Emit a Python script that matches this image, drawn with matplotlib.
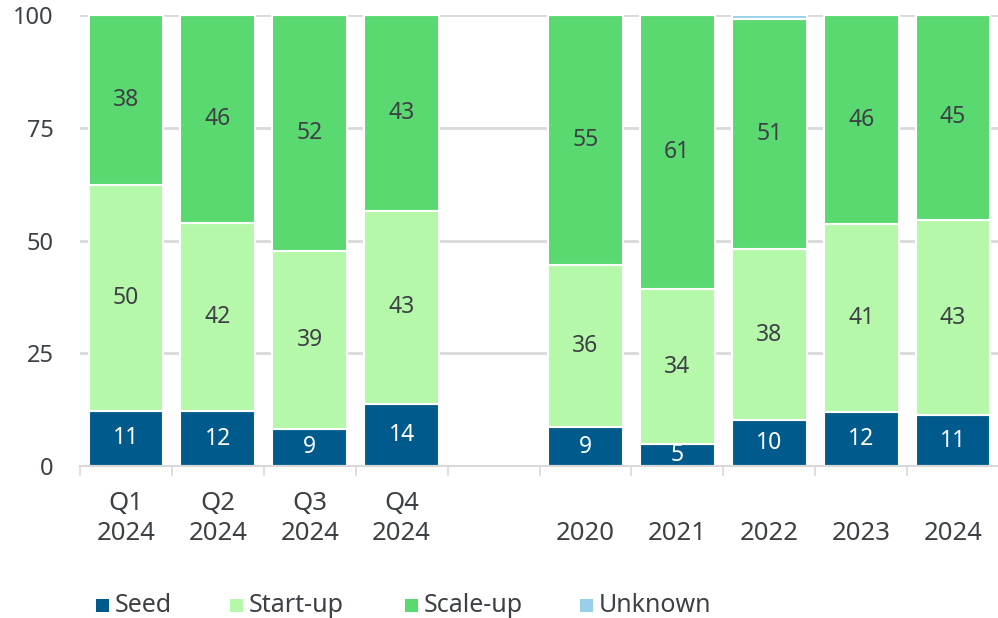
import numpy as np
import matplotlib.pyplot as plt
from matplotlib.patches import Rectangle

plt.rcParams['font.family'] = ['Noto Sans', 'DejaVu Sans']

categories = ["Q1\n2024", "Q2\n2024", "Q3\n2024", "Q4\n2024", "",
              "2020", "2021", "2022", "2023", "2024"]

# segment heights (share, %), spacer column is all zeros
seed = [12.2, 12.1, 8.3, 13.8, 0, 8.6, 4.8, 10.2, 12.0, 11.2]
startup = [50.1, 41.7, 39.4, 42.8, 0, 36.0, 34.5, 37.9, 41.6, 43.4]
scaleup = [37.7, 46.2, 52.3, 43.4, 0, 55.4, 60.7, 51.1, 46.4, 45.4]
unknown = [0, 0, 0, 0, 0, 0, 0, 0.8, 0, 0]

# labels as printed on the chart
seed_lbl = [11, 12, 9, 14, None, 9, 5, 10, 12, 11]
startup_lbl = [50, 42, 39, 43, None, 36, 34, 38, 41, 43]
scaleup_lbl = [38, 46, 52, 43, None, 55, 61, 51, 46, 45]

series = ["Seed", "Start-up", "Scale-up", "Unknown"]
colors = ["#005b8c", "#b6f8a9", "#59d970", "#9acfea"]
text_dark = "#3d4145"

fig = plt.figure(figsize=(9.98, 6.18), dpi=100)
ax = fig.add_axes([80 / 998, 152 / 618, 919 / 998, 451 / 618])

x = np.arange(len(categories))
bottom = np.zeros(len(categories))
for vals, lbls, col, tcol in [(seed, seed_lbl, colors[0], "white"),
                              (startup, startup_lbl, colors[1], text_dark),
                              (scaleup, scaleup_lbl, colors[2], text_dark),
                              (unknown, None, colors[3], text_dark)]:
    vals = np.array(vals, dtype=float)
    ax.bar(x, vals, bottom=bottom, width=0.815, color=col,
           edgecolor="white", linewidth=1.5, zorder=3)
    if lbls is not None:
        for xi, v, b, l in zip(x, vals, bottom, lbls):
            if l is not None:
                ax.text(xi, b + v / 2, str(l), ha="center", va="center",
                        fontsize=16.5, color=tcol, zorder=4)
    bottom += vals

ax.set_xlim(-0.5, len(categories) - 0.5)
ax.set_ylim(0, 100)
ax.set_yticks([0, 25, 50, 75, 100])
ax.yaxis.grid(True, color="#d9d9d9", linewidth=2, zorder=0)
ax.tick_params(axis="y", length=0, pad=19, labelsize=17, labelcolor=text_dark)

# single-line labels sit on the lower line, like the year under each quarter
tick_labels = [c if ("\n" in c or c == "") else "\n" + c for c in categories]
ax.set_xticks(x)
ax.set_xticklabels(tick_labels, linespacing=1.24)
ax.tick_params(axis="x", which="major", length=0, pad=18, labelsize=18.5,
               labelcolor=text_dark)
ax.set_xticks(np.arange(len(categories) + 1) - 0.5, minor=True)
ax.tick_params(axis="x", which="minor", length=7, width=1.2, color="#d9d9d9")

for s in ["top", "right", "left"]:
    ax.spines[s].set_visible(False)
ax.spines["bottom"].set_color("#d9d9d9")
ax.spines["bottom"].set_linewidth(1.5)
ax.spines["bottom"].set_zorder(5)

# legend along the bottom
legend_x = [96, 230, 405, 580]
for x0, name, col in zip(legend_x, series, colors):
    fig.patches.append(Rectangle((x0 / 998, (618 - 612) / 618), 12.5 / 998,
                                 13 / 618, transform=fig.transFigure,
                                 facecolor=col, edgecolor="none"))
    fig.text((x0 + 19) / 998, (618 - 612.5) / 618, name, ha="left",
             va="baseline", fontsize=18, color=text_dark)

fig.savefig("out.png", dpi=100)
